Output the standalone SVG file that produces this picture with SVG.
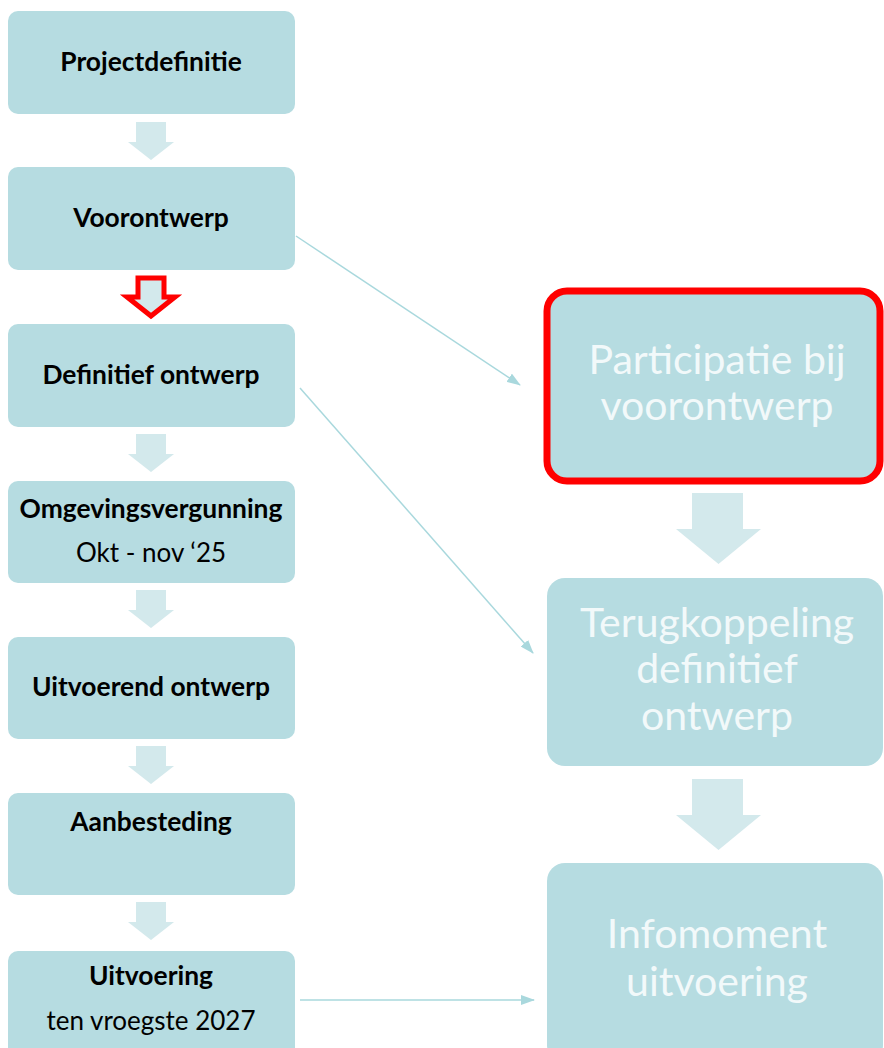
<svg xmlns="http://www.w3.org/2000/svg" width="884" height="1048" viewBox="0 0 884 1048">
<defs>
<style>
.box{fill:#b6dce1}
.blk{fill:#d3e9ec}
.lt{font-family:Lato,"Open Sans",sans-serif;font-weight:bold;font-size:26.4px;fill:#000;text-anchor:middle}
.ln{font-family:Lato,"Open Sans",sans-serif;font-size:26px;fill:#000;text-anchor:middle}
.rt{font-family:Lato,"Open Sans",sans-serif;font-size:41px;fill:#f2f9fa;text-anchor:middle}
.con{stroke:#a9d8dd;stroke-width:1.5;fill:none}
</style>
<marker id="ah" viewBox="0 0 14 10" refX="13" refY="5" markerWidth="14" markerHeight="10" markerUnits="userSpaceOnUse" orient="auto">
<path d="M0,0 L14,5 L0,10 Z" fill="#a9d8dd"/>
</marker>
<path id="down" d="M0,0 H30 V20 H38 L15,38 L-8,20 H0 Z"/>
</defs>
<rect width="884" height="1048" fill="#fff"/>

<g id="block-arrows">
<use href="#down" x="136" y="122" class="blk"/>
<use href="#down" x="136" y="434" class="blk"/>
<use href="#down" x="136" y="590" class="blk"/>
<use href="#down" x="136" y="746" class="blk"/>
<use href="#down" x="136" y="902" class="blk"/>
<path d="M138,278 H164 V297 H175 L151,316 L127,297 H138 Z" fill="#d3e9ec" stroke="#ff0000" stroke-width="5"/>
<path d="M692,493 H743 V529 H761 L718.5,564 L676,529 H692 Z" class="blk"/>
<path d="M692,779 H743 V815 H761 L718.5,850 L676,815 H692 Z" class="blk"/>
</g>

<g id="n1"><rect class="box" x="8" y="11" width="287" height="103" rx="10"/><text class="lt" x="151" y="71">Projectdefinitie</text></g>
<g id="n2"><rect class="box" x="8" y="167" width="287" height="103" rx="10"/><text class="lt" x="151" y="227">Voorontwerp</text></g>
<g id="n3"><rect class="box" x="8" y="324" width="287" height="103" rx="10"/><text class="lt" x="151" y="384">Definitief ontwerp</text></g>
<g id="n4"><rect class="box" x="8" y="481" width="287" height="102" rx="10"/><text class="lt" x="151" y="518">Omgevingsvergunning</text><text class="ln" x="151" y="562">Okt - nov ‘25</text></g>
<g id="n5"><rect class="box" x="8" y="637" width="287" height="102" rx="10"/><text class="lt" x="151" y="696">Uitvoerend ontwerp</text></g>
<g id="n6"><rect class="box" x="8" y="793" width="287" height="102" rx="10"/><text class="lt" x="151" y="831">Aanbesteding</text></g>
<g id="n7"><rect class="box" x="8" y="951" width="287" height="110" rx="10"/><text class="lt" x="151" y="985">Uitvoering</text><text class="ln" x="151" y="1030">ten vroegste 2027</text></g>

<g id="r1"><rect x="547" y="291" width="333" height="190" rx="20" fill="#b6dce1" stroke="#ff0000" stroke-width="7"/><text class="rt" x="717" y="374">Participatie bij</text><text class="rt" x="717" y="420">voorontwerp</text></g>
<g id="r2"><rect class="box" x="547" y="578" width="336" height="188" rx="18"/><text class="rt" x="717" y="637">Terugkoppeling</text><text class="rt" x="717" y="683">definitief</text><text class="rt" x="717" y="730">ontwerp</text></g>
<g id="r3"><rect class="box" x="547" y="863" width="336" height="200" rx="18"/><text class="rt" x="717" y="948">Infomoment</text><text class="rt" x="717" y="996">uitvoering</text></g>

<g id="connectors">
<line class="con" x1="296" y1="236" x2="520" y2="385" marker-end="url(#ah)"/>
<line class="con" x1="300" y1="388" x2="533" y2="653" marker-end="url(#ah)"/>
<line class="con" x1="300" y1="1000" x2="534" y2="1000" marker-end="url(#ah)"/>
</g>
</svg>
